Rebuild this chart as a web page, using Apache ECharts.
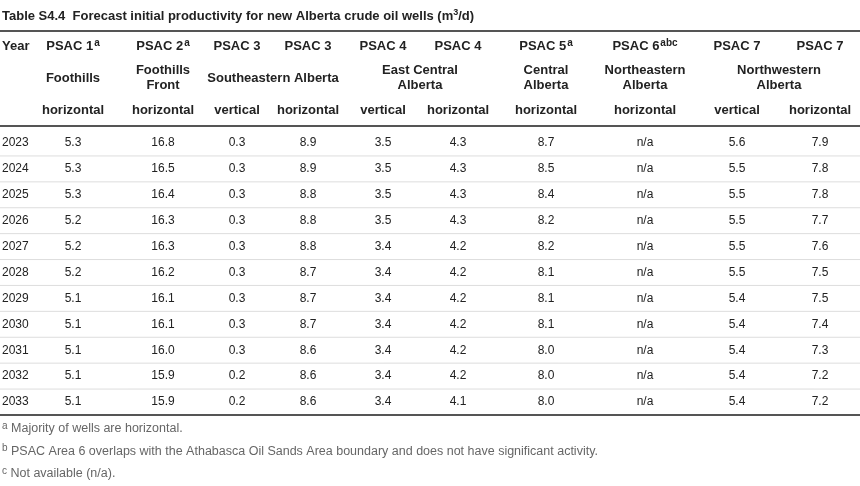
<!DOCTYPE html>
<html>
<head>
<meta charset="utf-8">
<script src="https://cdn.jsdelivr.net/npm/echarts@6/dist/echarts.min.js"></script>
<style>
  html, body { margin: 0; padding: 0; background: #fff; }
  #main { width: 860px; height: 486px; }
</style>
</head>
<body>
<div id="main"></div>
<script>
// table data
let years = ['2023', '2024', '2025', '2026', '2027', '2028', '2029', '2030', '2031', '2032', '2033'];
let psac1H = ['5.3', '5.3', '5.3', '5.2', '5.2', '5.2', '5.1', '5.1', '5.1', '5.1', '5.1'];
let psac2H = ['16.8', '16.5', '16.4', '16.3', '16.3', '16.2', '16.1', '16.1', '16.0', '15.9', '15.9'];
let psac3V = ['0.3', '0.3', '0.3', '0.3', '0.3', '0.3', '0.3', '0.3', '0.3', '0.2', '0.2'];
let psac3H = ['8.9', '8.9', '8.8', '8.8', '8.8', '8.7', '8.7', '8.7', '8.6', '8.6', '8.6'];
let psac4V = ['3.5', '3.5', '3.5', '3.5', '3.4', '3.4', '3.4', '3.4', '3.4', '3.4', '3.4'];
let psac4H = ['4.3', '4.3', '4.3', '4.3', '4.2', '4.2', '4.2', '4.2', '4.2', '4.2', '4.1'];
let psac5H = ['8.7', '8.5', '8.4', '8.2', '8.2', '8.1', '8.1', '8.1', '8.0', '8.0', '8.0'];
let psac6H = ['n/a', 'n/a', 'n/a', 'n/a', 'n/a', 'n/a', 'n/a', 'n/a', 'n/a', 'n/a', 'n/a'];
let psac7V = ['5.6', '5.5', '5.5', '5.5', '5.5', '5.5', '5.4', '5.4', '5.4', '5.4', '5.4'];
let psac7H = ['7.9', '7.8', '7.8', '7.7', '7.6', '7.5', '7.5', '7.4', '7.3', '7.2', '7.2'];

let headRow1 = [['PSAC 1', 'a'], ['PSAC 2', 'a'], ['PSAC 3', ''], ['PSAC 3', ''], ['PSAC 4', ''], ['PSAC 4', ''], ['PSAC 5', 'a'], ['PSAC 6', 'abc'], ['PSAC 7', ''], ['PSAC 7', '']];
let regions = [['Foothills', 73], ['Foothills\nFront', 163], ['Southeastern Alberta', 273], ['East Central\nAlberta', 420], ['Central\nAlberta', 546], ['Northeastern\nAlberta', 645], ['Northwestern\nAlberta', 779]];
let wellTypes = ['horizontal', 'horizontal', 'vertical', 'horizontal', 'vertical', 'horizontal', 'horizontal', 'horizontal', 'vertical', 'horizontal'];
let footnotes = [['a', 'Majority of wells are horizontal.'],
  ['b', 'PSAC Area 6 overlaps with the Athabasca Oil Sands Area boundary and does not have significant activity.'],
  ['c', 'Not available (n/a).']];

let columns = [psac1H, psac2H, psac3V, psac3H, psac4V, psac4H, psac5H, psac6H, psac7V, psac7H];
let colX = [73, 163, 237, 308, 383, 458, 546, 645, 737, 820];

let font = 'Arial, "Liberation Sans", sans-serif';
let els = [];

function txt(x, y, s, opt) {
  opt = opt || {};
  els.push({
    type: 'text', x: x, y: y,
    style: {
      text: s, fill: opt.fill || '#222', font: (opt.bold ? 'bold ' : '') + (opt.size || 13) + 'px ' + font,
      textAlign: opt.align || 'center', textVerticalAlign: 'middle', lineHeight: opt.lh || 15
    }
  });
}
function hline(y, w, c) {
  els.push({ type: 'line', shape: { x1: 0, y1: y, x2: 860, y2: y }, style: { stroke: c, lineWidth: w } });
}

// title
els.push({ type: 'text', x: 2, y: 16, style: {
  text: 'Table S4.4  Forecast initial productivity for new Alberta crude oil wells (m{s|3}/d)',
  font: 'bold 13px ' + font, fill: '#222', textVerticalAlign: 'middle',
  rich: { s: { font: 'bold 9px ' + font, fill: '#222', padding: [0, 0, 7, 0] } }
}});

hline(31, 2, '#555');
txt(2, 46, 'Year', { bold: true, align: 'left' });
headRow1.forEach(function (h, i) {
  els.push({ type: 'text', x: colX[i], y: 46, style: {
    text: h[0] + (h[1] ? '{s|' + h[1] + '}' : ''), textAlign: 'center', textVerticalAlign: 'middle',
    font: 'bold 13px ' + font, fill: '#222',
    rich: { s: { font: 'bold 10px ' + font, fill: '#222', padding: [0, 0, 6, 1] } }
  }});
});
regions.forEach(function (r) { txt(r[1], 78, r[0], { bold: true }); });
wellTypes.forEach(function (w, i) { txt(colX[i], 110, w, { bold: true }); });
hline(126, 2, '#555');

let rowH = 25.9;
years.forEach(function (yr, r) {
  let y = 143 + r * rowH;
  txt(2, y, yr, { align: 'left', size: 12 });
  columns.forEach(function (col, c) { txt(colX[c], y, col[r], { size: 12 }); });
  if (r < years.length - 1) hline(y + rowH / 2, 1, '#ddd');
});
hline(415, 2, '#555');

footnotes.forEach(function (f, i) {
  els.push({ type: 'text', x: 2, y: 429 + i * 22.5, style: {
    text: '{s|' + f[0] + '} ' + f[1], font: '12.5px ' + font, fill: '#666', textVerticalAlign: 'middle',
    rich: { s: { font: '10px ' + font, fill: '#666', padding: [0, 0, 6, 0] } }
  }});
});

let myChart = echarts.init(document.getElementById('main'));
myChart.setOption({ animation: false, graphic: { elements: els } });
</script>
</body>
</html>
